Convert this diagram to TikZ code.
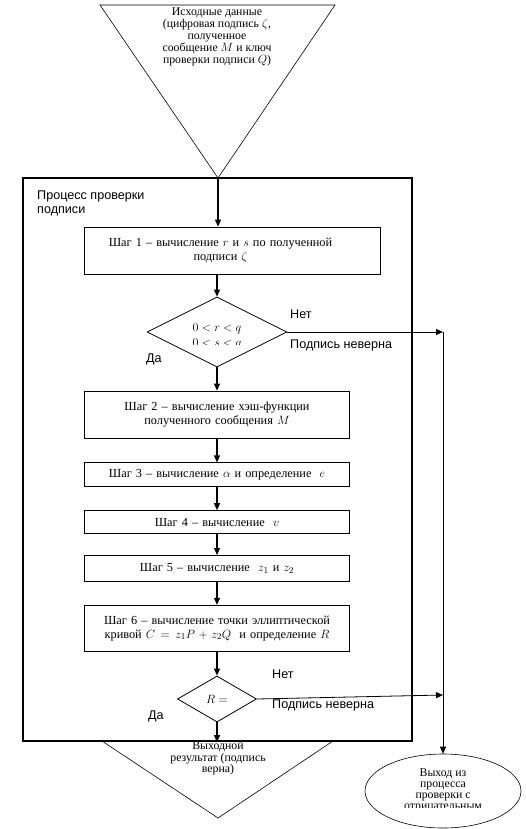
\documentclass[tikz,border=0pt]{standalone}
\usepackage{fontspec}
\setmainfont{Liberation Serif}
\setsansfont{Liberation Sans}
\usetikzlibrary{shapes.geometric, arrows.meta, positioning}

\begin{document}
\begin{tikzpicture}[
    x=1pt, y=-1pt,
    node distance=23pt,
    stepbox/.style={rectangle, draw, line width=0.8pt, text width=257pt, align=center, inner sep=4pt, font=\fontsize{12.3}{14}\selectfont},
    decision/.style={diamond, draw, line width=0.8pt, inner sep=0pt},
    txt/.style={align=center, inner sep=0pt, font=\fontsize{11.8}{12}\selectfont},
    lbl/.style={inner sep=0pt, font=\sffamily\fontsize{12.6}{14}\selectfont},
    procbox/.style={rectangle, draw, line width=2.4pt},
    line/.style={draw, -{Triangle[length=7pt,width=6pt]}, line width=1.2pt},
    thinline/.style={draw, -{Triangle[length=7pt,width=6pt]}, line width=0.8pt},
]
\useasboundingbox (0,0) rectangle (526,829);

% input and output triangles
\coordinate (inL) at (100,5);
\coordinate (inR) at (335,5);
\coordinate (inapex) at (218,178);
\draw[line width=0.6pt] (inL) -- (inR) -- (inapex) -- cycle;
\node [txt] (input) at (217,36.5) {Исходные данные\\(цифровая подпись $\zeta$,\\полученное\\сообщение $M$ и ключ\\проверки подписи $Q$)};

\coordinate (outL) at (102,741);
\coordinate (outR) at (333,741);
\coordinate (outapex) at (218,818);
\draw[line width=0.6pt] (outL) -- (outR) -- (outapex) -- cycle;
\node [txt, font=\fontsize{11.8}{11.5}\selectfont] (output) at (218,758.5) {Выходной\\результат (подпись\\верна)};

% verification process
\node [procbox, minimum width=389pt, minimum height=563pt] (proc) at (217.5,459.5) {};
\node [lbl, anchor=north west, align=left] (proctitle) at (37,191) {Процесс проверки\\подписи};

\node [stepbox, text width=288pt, align=left, minimum height=47pt] (step1) at (232,250.5) {\parbox{265pt}{\centering Шаг 1 – вычисление $r$ и $s$ по полученной\\подписи $\zeta$}};

\node [decision, minimum width=140pt, minimum height=70pt] (dec1) at (217,332) {};
\begin{scope}
\clip (150,316) rectangle (284,344);
\node [txt, font=\fontsize{12.3}{15}\selectfont] (cond1) at (217,336.5) {$0<r<q$\\$0<s<q$};
\end{scope}

\node [stepbox, minimum height=47pt] (step2) at (217,414.5) {Шаг 2 – вычисление хэш-функции\\полученного сообщения $M$};
\node [stepbox, minimum height=24pt, below=24pt of step2] (step3) {Шаг 3 – вычисление $\alpha$ и определение \ $e$};
\node [stepbox, minimum height=23pt, below=23pt of step3] (step4) {Шаг 4 – вычисление \ $v$};
\node [stepbox, minimum height=26pt, below=21pt of step4] (step5) {Шаг 5 – вычисление \ $z_1$ и $z_2$};
\node [stepbox, minimum height=46pt, below=23pt of step5] (step6) {Шаг 6 – вычисление точки эллиптической\\кривой $C = z_1P + z_2Q$ \ и определение $R$};
\node [decision, minimum width=79pt, minimum height=46pt, below=24pt of step6, font=\fontsize{12.3}{14}\selectfont] (dec2) {$R =$};

% negative exit
\node [ellipse, draw, line width=0.6pt, minimum width=156pt, minimum height=74pt, inner sep=0pt] (exit) at (443,791) {};
\begin{scope}
\clip (366,760) rectangle (520,807.5);
\node [txt, font=\fontsize{11.8}{11}\selectfont] (exittext) at (443,790) {Выход из\\процесса\\проверки с\\отрицательным};
\end{scope}
\coordinate (c1) at (443,332);
\coordinate (c2) at (443,695);

\node [lbl, anchor=west] (no1) at (290,314) {Нет};
\node [lbl, anchor=west] (err1) at (290,345) {Подпись неверна};
\node [lbl, anchor=west] (yes1) at (146,359) {Да};
\node [lbl, anchor=west] (no2) at (272,674) {Нет};
\node [lbl, anchor=west] (err2) at (272,705) {Подпись неверна};
\node [lbl, anchor=west] (yes2) at (148,716) {Да};

\path [line] (inapex) -- (inapex |- step1.north);
\path [line] (dec1.north |- step1.south) -- (dec1.north);
\path [line] (dec1.south) -- (step2.north);
\path [line] (step2) -- (step3);
\path [line] (step3) -- (step4);
\path [line] (step4) -- (step5);
\path [line] (step5) -- (step6);
\path [line] (step6) -- (dec2);
\path [line] (dec2.south) -- (dec2.south |- proc.south);
\path [thinline] (dec1.east) -- (c1);
\path [thinline] (dec2.east) -- (c2);
\path [thinline] (c1) -- (exit.north);
\end{tikzpicture}
\end{document}
